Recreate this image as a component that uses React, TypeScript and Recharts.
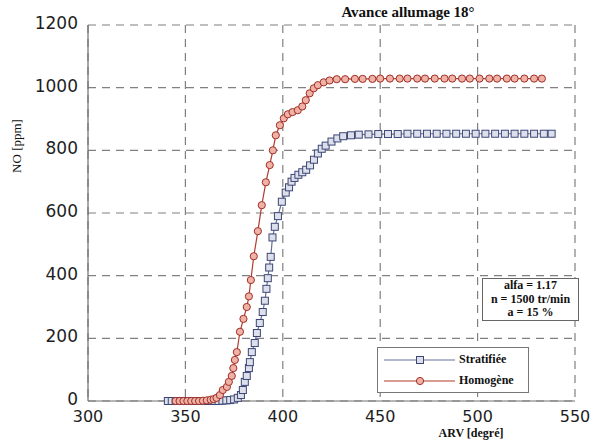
import React from 'react';
import { LineChart, Line, XAxis, YAxis, CartesianGrid } from 'recharts';

const chartTitle = 'Avance allumage 18°';
const xLabel = 'ARV [degré]';
const yLabel = 'NO [ppm]';
const seriesNames = ['Stratifiée', 'Homogène'];
const annotationLines = ['alfa = 1.17', 'n = 1500 tr/min', 'a = 15 %'];
const xTicks = [300, 350, 400, 450, 500, 550];
const yTicks = [0, 200, 400, 600, 800, 1000, 1200];

const stratX = [
  341, 343, 345, 347, 349, 351, 353, 355, 357, 359, 361, 363, 365, 367, 369, 371, 373, 375,
  376.9, 378.5, 379.5, 380.5, 381.5, 382.6, 383.1, 384.1, 385.6, 386.7, 388.2, 389.7, 390.8, 391.6,
  392.3, 393, 393.8, 394.7, 395.9, 397.5, 399.5, 401.5, 403.2, 404.5,
  406, 408, 410, 412, 414, 416, 418, 420, 422, 425, 428, 431, 435, 439,
  444, 449, 454, 459, 464, 469, 474, 479, 484, 489, 494, 499, 504, 509, 514, 519, 524, 529, 534, 538,
];
const stratY = [
  0, 0, 0, 0, 0, 0, 0, 0, 0, 0, 0, 0, 0, 0, 1, 2, 3, 5,
  10, 19, 35, 61, 80, 105, 124, 156, 185, 217, 249, 284, 320, 358,
  392, 426, 460, 522, 556, 590, 636, 665, 682, 700,
  712, 722, 730, 738, 752, 770, 790, 805, 815, 828, 838, 845, 848, 850,
  851, 852, 852, 852, 853, 853, 853, 853, 853, 853, 853, 853, 853, 853, 853, 853, 853, 853, 853, 853,
];

const homoX = [
  345, 347, 349, 351, 353, 355, 357, 359, 361, 363, 364.5, 366, 367.7, 369.2, 371.3, 372.3,
  373.8, 374.6, 375.4, 376.4, 378, 379.8, 381.5, 382.6, 383.6, 385.1, 387.2, 389.2, 391.3, 393.3,
  394.9, 396.4, 398.5, 400.5, 402.6, 405, 407.7, 410, 411.8, 413.8, 415.9, 418, 421, 424, 427.7,
  432, 437, 441, 446, 450, 455, 460, 464, 469, 473, 478, 483, 487, 492, 496, 501, 506, 510, 515, 519, 524, 529, 533,
];
const homoY = [
  0, 0, 0, 0, 0, 0, 0, 1, 2, 4, 6, 10, 19, 35, 45, 61,
  80, 105, 131, 156, 221, 262, 300, 334, 386, 462, 542, 625, 698, 753,
  800, 848, 880, 902, 915, 922, 928, 940, 960, 982, 998, 1008, 1017, 1023, 1027,
  1027, 1028, 1028, 1028, 1029, 1029, 1029, 1029, 1029, 1029, 1029, 1029, 1029, 1029, 1029, 1029, 1029, 1029, 1029, 1029, 1029, 1029, 1029,
];

const stratData = stratX.map((x, i) => ({ x, y: stratY[i] }));
const homoData = homoX.map((x, i) => ({ x, y: homoY[i] }));

const BLUE_LINE = '#66709a';
const BLUE_EDGE = '#3c4676';
const BLUE_FILL = '#dde0ea';
const RED_LINE = '#b23a2c';
const RED_EDGE = '#a22e26';
const RED_FILL = '#eeb2a6';

const SquareDot = (props: any) => {
  const { cx, cy, index } = props;
  if (cx == null || cy == null) return null;
  return (
    <rect
      key={`sq-${index}`}
      x={cx - 3.5}
      y={cy - 3.5}
      width={7}
      height={7}
      fill={BLUE_FILL}
      stroke={BLUE_EDGE}
      strokeWidth={1}
    />
  );
};

const serif = '"Liberation Serif", "Times New Roman", serif';

const LegendBox = () => (
  <div
    style={{
      position: 'absolute',
      left: 377,
      top: 347,
      width: 152,
      height: 46,
      border: '1px solid #777',
      background: '#fff',
      boxSizing: 'border-box',
      fontFamily: serif,
      fontWeight: 'bold',
      fontSize: 12,
      color: '#111',
    }}
  >
    <svg width={80} height={46} style={{ position: 'absolute', left: 0, top: 0 }}>
      <line x1={6} y1={12} x2={77} y2={12} stroke={BLUE_LINE} strokeWidth={1.2} />
      <rect x={38.5} y={8.5} width={7} height={7} fill={BLUE_FILL} stroke={BLUE_EDGE} />
      <line x1={6} y1={33} x2={77} y2={33} stroke={RED_LINE} strokeWidth={1.2} />
      <circle cx={42} cy={33} r={3.6} fill={RED_FILL} stroke={RED_EDGE} />
    </svg>
    <div style={{ position: 'absolute', left: 81, top: 4, whiteSpace: 'nowrap' }}>{seriesNames[0]}</div>
    <div style={{ position: 'absolute', left: 81, top: 25, whiteSpace: 'nowrap' }}>{seriesNames[1]}</div>
  </div>
);

export default function App() {
  return (
    <div style={{ position: 'absolute', left: 0, top: 0, width: 600, height: 441, background: '#fff' }}>
      <LineChart width={600} height={441} data={stratData} margin={{ top: 25, right: 25, bottom: 0, left: 0 }}>
        <CartesianGrid stroke="#808080" strokeDasharray="8 6" strokeWidth={1.2} />
        <XAxis
          dataKey="x"
          type="number"
          domain={[300, 550]}
          ticks={xTicks}
          allowDataOverflow
          height={40}
          tickLine={false}
          tickSize={0}
          tickMargin={10}
          axisLine={{ stroke: '#707070', strokeWidth: 1.2 }}
          tick={{ fill: '#1e1e1e', fontSize: 16, fontFamily: '"DejaVu Sans", sans-serif' }}
        />
        <XAxis
          xAxisId="top"
          orientation="top"
          type="number"
          domain={[300, 550]}
          ticks={xTicks}
          height={0}
          tick={false}
          tickLine={false}
          axisLine={{ stroke: '#707070', strokeWidth: 1.2 }}
        />
        <YAxis
          type="number"
          domain={[0, 1200]}
          ticks={yTicks}
          width={88}
          tickLine={false}
          tickSize={0}
          tickMargin={10}
          axisLine={{ stroke: '#707070', strokeWidth: 1.2 }}
          tick={{ fill: '#1e1e1e', fontSize: 17, fontFamily: '"DejaVu Sans", sans-serif', dy: -2 }}
        />
        <YAxis
          yAxisId="right"
          orientation="right"
          type="number"
          domain={[0, 1200]}
          ticks={yTicks}
          width={0}
          tick={false}
          tickLine={false}
          axisLine={{ stroke: '#707070', strokeWidth: 1.2 }}
        />
        <Line
          data={stratData}
          dataKey="y"
          name={seriesNames[0]}
          type="linear"
          stroke={BLUE_LINE}
          strokeWidth={1.2}
          dot={SquareDot}
          activeDot={false}
          isAnimationActive={false}
        />
        <Line
          data={homoData}
          dataKey="y"
          name={seriesNames[1]}
          type="linear"
          stroke={RED_LINE}
          strokeWidth={1.2}
          dot={{ r: 3.6, fill: RED_FILL, stroke: RED_EDGE, strokeWidth: 1 }}
          activeDot={false}
          isAnimationActive={false}
        />
      </LineChart>

      <LegendBox />

      <div
        style={{
          position: 'absolute',
          left: 408,
          top: 4,
          transform: 'translateX(-50%)',
          whiteSpace: 'nowrap',
          fontFamily: serif,
          fontWeight: 'bold',
          fontSize: 15,
          color: '#111',
        }}
      >
        {chartTitle}
      </div>

      <div
        style={{
          position: 'absolute',
          left: 482,
          top: 278,
          width: 97,
          height: 43,
          boxSizing: 'border-box',
          border: '1px solid #666',
          background: '#fff',
          textAlign: 'center',
          fontFamily: serif,
          fontWeight: 'bold',
          fontSize: 12,
          lineHeight: '13.5px',
          color: '#111',
          whiteSpace: 'nowrap',
        }}
      >
        {annotationLines.map((t) => (
          <div key={t}>{t}</div>
        ))}
      </div>

      <div
        style={{
          position: 'absolute',
          left: 471,
          top: 433,
          transform: 'translate(-50%, -50%)',
          whiteSpace: 'nowrap',
          fontFamily: serif,
          fontWeight: 'bold',
          fontSize: 12,
          color: '#111',
        }}
      >
        {xLabel}
      </div>

      <div
        style={{
          position: 'absolute',
          left: 17,
          top: 146,
          transform: 'translate(-50%, -50%) rotate(-90deg)',
          whiteSpace: 'nowrap',
          fontFamily: serif,
          fontSize: 13,
          color: '#111',
        }}
      >
        {yLabel}
      </div>
    </div>
  );
}
